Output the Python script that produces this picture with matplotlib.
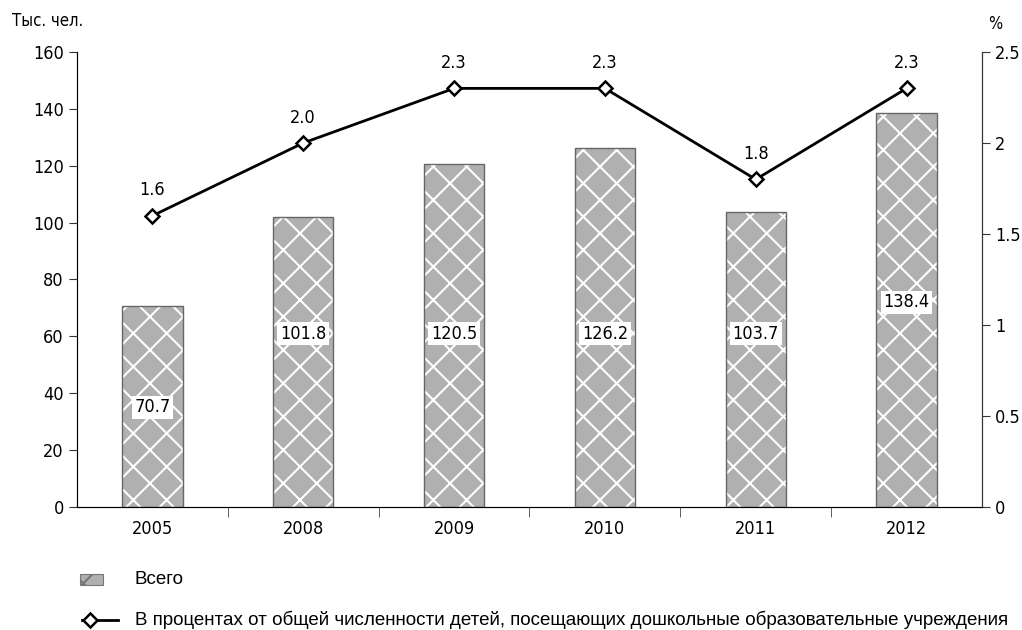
import matplotlib
matplotlib.use('Agg')
import matplotlib.pyplot as plt
import numpy as np
from matplotlib.patches import Rectangle
from matplotlib.lines import Line2D

plt.rcParams['font.family'] = ['DejaVu Sans']
plt.rcParams['font.stretch'] = 'condensed'
plt.rcParams['hatch.linewidth'] = 1.5

# Data
years = ['2005', '2008', '2009', '2010', '2011', '2012']
total = [70.7, 101.8, 120.5, 126.2, 103.7, 138.4]
percent = [1.6, 2.0, 2.3, 2.3, 1.8, 2.3]
label_y = [35, 61, 61, 61, 61, 72]

bar_gray = '#b0b0b0'
fig = plt.figure(figsize=(10.22, 6.3), dpi=100)
ax = fig.add_axes([0.0753, 0.1952, 0.8856, 0.7223])
x = np.arange(len(years))

# bars: gray fill with white cross hatch, dark edge on top
ax.bar(x, total, width=0.4, color=bar_gray, edgecolor='white', hatch='x', linewidth=0, zorder=2)
ax.bar(x, total, width=0.4, color='none', edgecolor='#666666', linewidth=1.0, zorder=3)

for xi, v, ly in zip(x, total, label_y):
    ax.text(xi, ly, f'{v:.1f}', ha='center', va='center', fontsize=13, zorder=4,
            bbox=dict(boxstyle='square,pad=0.15', fc='white', ec='none'))

ax.set_xlim(-0.5, len(years) - 0.5)
ax.set_ylim(0, 160)
ax.set_yticks(np.arange(0, 161, 20))
ax.set_xticks(x)
ax.set_xticklabels(years)
ax.set_xticks(np.arange(0.5, len(years) - 1, 1), minor=True)
ax.tick_params(axis='x', which='major', length=0, pad=9, labelsize=13)
ax.tick_params(axis='x', which='minor', length=7, direction='out', color='#444444')
ax.tick_params(axis='y', length=6, labelsize=13, color='#333333')
ax.spines['top'].set_visible(False)
for s in ['left', 'bottom', 'right']:
    ax.spines[s].set_color('#333333')

ax2 = ax.twinx()
ax2.plot(x, percent, color='black', linewidth=2, marker='D', markersize=7.5,
         markerfacecolor='white', markeredgecolor='black', markeredgewidth=1.8, zorder=5)
for xi, p in zip(x, percent):
    ax2.text(xi, p + 0.09, f'{p:.1f}', ha='center', va='bottom', fontsize=13)
ax2.set_ylim(0, 2.5)
ax2.set_yticks([0, 0.5, 1, 1.5, 2, 2.5])
ax2.set_yticklabels(['0', '0.5', '1', '1.5', '2', '2.5'])
ax2.tick_params(axis='y', length=6, labelsize=13, color='#333333')
ax2.spines['top'].set_visible(False)
ax2.spines['right'].set_color('#333333')
ax.set_zorder(ax2.get_zorder() - 1)
ax2.patch.set_visible(False)

fig.text(0.012, 0.966, 'Тыс. чел.', fontsize=12, va='center', ha='left')
fig.text(0.967, 0.962, '%', fontsize=12, va='center', ha='left')

# legend drawn by hand below the plot
W, H = 1022, 630
fig.patches.append(Rectangle((80 / W, 1 - 585 / H), 23 / W, 11 / H, transform=fig.transFigure,
                             facecolor=bar_gray, edgecolor='#777777', hatch='x', linewidth=0.8))
fig.lines.append(Line2D([82 / W, 118 / W], [1 - 620 / H, 1 - 620 / H], transform=fig.transFigure,
                        color='black', linewidth=2))
fig.lines.append(Line2D([90 / W], [1 - 620 / H], transform=fig.transFigure, marker='D',
                        markersize=7.5, markerfacecolor='white', markeredgecolor='black',
                        markeredgewidth=1.8, linestyle='none'))
leg_font = dict(family=['Liberation Sans', 'DejaVu Sans'], stretch='normal', size=13.5)
fig.text(135 / W, 1 - 580 / H, 'Всего', va='center', ha='left', **leg_font)
fig.text(135 / W, 1 - 620 / H,
         'В процентах от общей численности детей, посещающих дошкольные образовательные учреждения',
         va='center', ha='left', **leg_font)

fig.savefig('out.png', dpi=100)
